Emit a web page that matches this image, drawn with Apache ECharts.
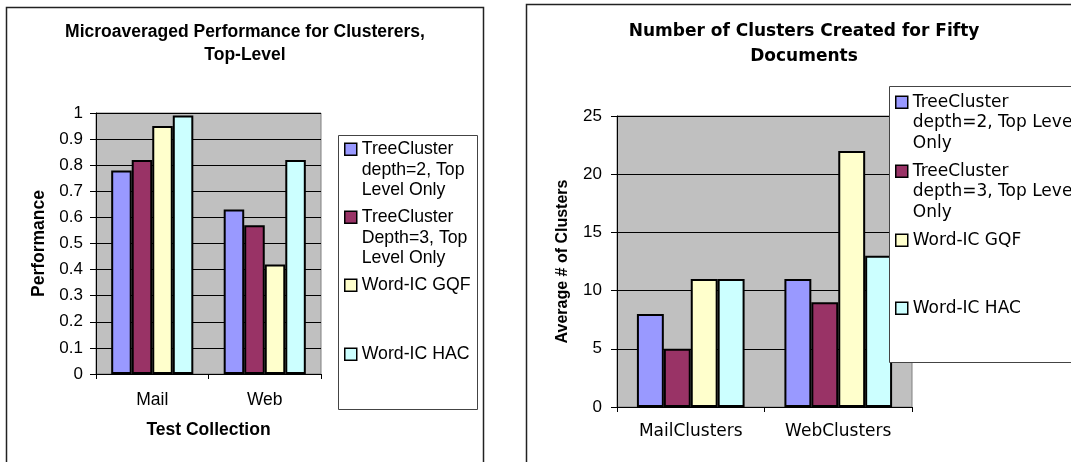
<!DOCTYPE html>
<html>
<head>
<meta charset="utf-8">
<script src="https://cdn.jsdelivr.net/npm/echarts@6/dist/echarts.min.js"></script>
<style>
html, body { margin: 0; padding: 0; background: #fff; }
#main { width: 1071px; height: 462px; }
</style>
</head>
<body>
<div id="main"></div>
<script>
// data
var perfCategories = ['Mail', 'Web'];
var clusterCategories = ['MailClusters', 'WebClusters'];

var perfNames = ['TreeCluster depth=2, Top Level Only', 'TreeCluster Depth=3, Top Level Only', 'Word-IC GQF', 'Word-IC HAC'];
var perfLegendLabels = ['TreeCluster\ndepth=2, Top\nLevel Only', 'TreeCluster\nDepth=3, Top\nLevel Only', 'Word-IC GQF', 'Word-IC HAC'];
var clusterNames = ['TreeCluster depth=2, Top Level Only', 'TreeCluster depth=3, Top Level Only', 'Word-IC GQF', 'Word-IC HAC'];
var clusterLegendLabels = ['TreeCluster\ndepth=2, Top Level\nOnly', 'TreeCluster\ndepth=3, Top Level\nOnly', 'Word-IC GQF', 'Word-IC HAC'];

var perfTreeDepth2 = [0.78, 0.63];
var perfTreeDepth3 = [0.82, 0.57];
var perfWordGQF = [0.95, 0.42];
var perfWordHAC = [0.99, 0.82];

var clustersTreeDepth2 = [8, 11];
var clustersTreeDepth3 = [5, 9];
var clustersWordGQF = [11, 22];
var clustersWordHAC = [11, 13];

var colors = ['#9999FF', '#993366', '#FFFFCC', '#CCFFFF'];
var font = "'Liberation Sans', Arial, sans-serif";
// the right chart's text is set wider in the picture
var wideFont = "'DejaVu Sans', Verdana, sans-serif";

var myChart = echarts.init(document.getElementById('main'));

function barSeries(name, data, idx, colorIdx, gap) {
    return {
        name: name,
        type: 'bar',
        xAxisIndex: idx,
        yAxisIndex: idx,
        data: data,
        barGap: '0%',
        barCategoryGap: gap,
        itemStyle: { color: colors[colorIdx], borderColor: '#000', borderWidth: 2 }
    };
}

// one legend per item; blank lines in front keep the icon on the first text line (Excel style)
function legendItem(name, label, left, top, family, size) {
    var lines = label.split('\n').length;
    var text = new Array(lines).join('\n') + label;
    return {
        left: left,
        top: top,
        padding: 0,
        orient: 'vertical',
        itemWidth: 12,
        itemHeight: 12,
        icon: 'rect',
        selectedMode: false,
        data: [name],
        formatter: function() { return text; },
        itemStyle: { borderColor: '#000', borderWidth: 1.5 },
        textStyle: {
            fontFamily: family,
            fontSize: size,
            color: '#000',
            lineHeight: 20.5
        }
    };
}

var perfSeriesData = [perfTreeDepth2, perfTreeDepth3, perfWordGQF, perfWordHAC];
var clusterSeriesData = [clustersTreeDepth2, clustersTreeDepth3, clustersWordGQF, clustersWordHAC];

var series = [];
var legends = [];
var perfTops = [98, 166, 275, 344];
var clusterTops = [51, 120, 230, 298];
for (var i = 0; i < 4; i++) {
    series.push(barSeries(perfNames[i], perfSeriesData[i], 0, i, '27%'));
    legends.push(legendItem(perfNames[i], perfLegendLabels[i], 344, perfTops[i], font, 17.7));
}
for (var j = 0; j < 4; j++) {
    series.push(barSeries(clusterNames[j], clusterSeriesData[j], 1, j, '27%'));
    legends.push(legendItem(clusterNames[j], clusterLegendLabels[j], 895, clusterTops[j], wideFont, 17));
}

function xAxis(idx, cats, name, labelStyle, margin) {
    return {
        type: 'category',
        gridIndex: idx,
        data: cats,
        name: name,
        nameLocation: 'middle',
        nameGap: 47,
        nameTextStyle: { fontFamily: font, fontSize: 17.5, fontWeight: 'bold', color: '#000' },
        axisLine: { lineStyle: { color: '#000', width: 1 } },
        axisTick: { show: true, length: 5, lineStyle: { color: '#000' } },
        axisLabel: Object.assign({ margin: margin, color: '#000' }, labelStyle),
        splitLine: { show: false }
    };
}

function yAxis(idx, max, interval, name, gap, nameSize, margin) {
    return {
        type: 'value',
        gridIndex: idx,
        min: 0,
        max: max,
        interval: interval,
        name: name,
        nameLocation: 'middle',
        nameGap: gap,
        nameTextStyle: { fontFamily: font, fontSize: nameSize, fontWeight: 'bold', color: '#000' },
        axisLine: { show: true, lineStyle: { color: '#000', width: 1 } },
        axisTick: { show: true, length: 6, lineStyle: { color: '#000' } },
        axisLabel: { margin: margin, fontFamily: font, fontSize: 17, color: '#000' },
        splitLine: { show: true, lineStyle: { color: '#000', width: 1 } }
    };
}

var option = {
    animation: false,
    backgroundColor: '#fff',
    title: [{
        text: 'Microaveraged Performance for Clusterers,\nTop-Level',
        left: 245,
        top: 21,
        padding: 0,
        textAlign: 'center',
        textVerticalAlign: 'top',
        textStyle: { fontFamily: font, fontSize: 17.5, fontWeight: 'bold', color: '#000', lineHeight: 23 }
    }, {
        text: 'Number of Clusters Created for Fifty\nDocuments',
        left: 804,
        top: 19,
        padding: 0,
        textAlign: 'center',
        textVerticalAlign: 'top',
        textStyle: { fontFamily: wideFont, fontSize: 17, fontWeight: 'bold', color: '#000', lineHeight: 25 }
    }],
    legend: legends,
    grid: [{
        left: 96, top: 113, width: 225, height: 261,
        show: true, backgroundColor: '#C0C0C0', borderColor: '#808080', borderWidth: 1
    }, {
        left: 617, top: 116, width: 295, height: 291,
        show: true, backgroundColor: '#C0C0C0', borderColor: '#808080', borderWidth: 1
    }],
    xAxis: [
        xAxis(0, perfCategories, 'Test Collection', { fontFamily: font, fontSize: 17.5 }, 17),
        xAxis(1, clusterCategories, '', { fontFamily: wideFont, fontSize: 17 }, 16)
    ],
    yAxis: [
        yAxis(0, 1, 0.1, 'Performance', 48, 17.5, 13),
        yAxis(1, 25, 5, 'Average # of Clusters', 46, 16, 15)
    ],
    series: series,
    //边框和图例框
    graphic: [
        { type: 'rect', z: 1, shape: { x: 6.5, y: 7.5, width: 477, height: 470 }, style: { fill: null, stroke: '#222', lineWidth: 1.5 } },
        { type: 'rect', z: 1, shape: { x: 526.5, y: 4.5, width: 560, height: 470 }, style: { fill: null, stroke: '#222', lineWidth: 1.5 } },
        { type: 'rect', z: 3, shape: { x: 338.5, y: 135.5, width: 139, height: 274 }, style: { fill: '#fff', stroke: '#444', lineWidth: 1 } },
        { type: 'rect', z: 3, shape: { x: 889.5, y: 86.5, width: 200, height: 276 }, style: { fill: '#fff', stroke: '#444', lineWidth: 1 } }
    ]
};

myChart.setOption(option);
</script>
</body>
</html>
